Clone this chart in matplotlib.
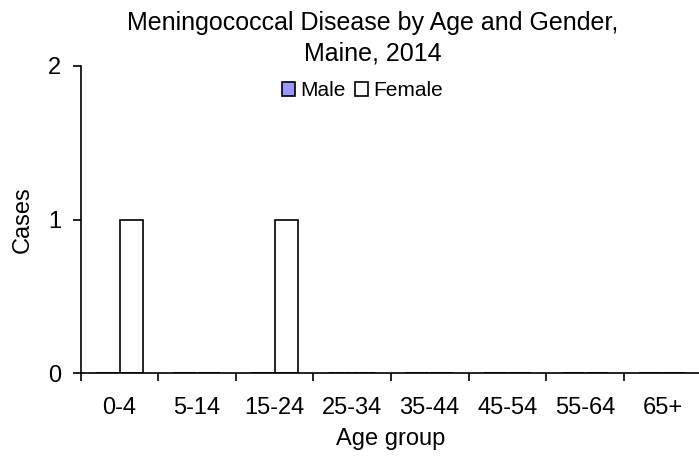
import matplotlib
matplotlib.use("Agg")
import matplotlib.pyplot as plt
import numpy as np

plt.rcParams['font.family'] = ['Liberation Sans', 'DejaVu Sans']

age_groups = ["0-4", "5-14", "15-24", "25-34", "35-44", "45-54", "55-64", "65+"]
male = [0, 0, 0, 0, 0, 0, 0, 0]
female = [1, 0, 1, 0, 0, 0, 0, 0]
y_ticks = [0, 1, 2]

fig = plt.figure(figsize=(6.99, 4.62), dpi=100)
W, H = 699, 462
left_px, right_px = 80.5, 701.3
top_px, bot_px = 66, 373
ax = fig.add_axes([left_px / W, 1 - bot_px / H, (right_px - left_px) / W, (bot_px - top_px) / H])

x = np.arange(len(age_groups))
bw = 0.29
ax.bar(x - 0.155, male, width=bw, color="#9999FF", edgecolor="black", linewidth=1.2, label="Male")
ax.bar(x + 0.155, female, width=bw, color="white", edgecolor="black", linewidth=1.2, label="Female")

ax.set_xlim(-0.5, len(age_groups) - 0.5)
ax.set_ylim(0, 2)
ax.set_yticks(y_ticks)
ax.set_yticklabels([str(v) for v in y_ticks], fontsize=17)
ax.set_xticks(x)
ax.set_xticklabels(age_groups, fontsize=17)
ax.set_xticks(np.arange(len(age_groups) + 1) - 0.5, minor=True)
ax.tick_params(axis='x', which='major', length=0, pad=17.5)
ax.tick_params(axis='x', which='minor', length=6, direction='out', width=1.2)
ax.tick_params(axis='y', length=6, direction='out', width=1.2, pad=8)
for s in ['top', 'right']:
    ax.spines[s].set_visible(False)
for s in ['left', 'bottom']:
    ax.spines[s].set_linewidth(1.2)

ax.set_xlabel("Age group", fontsize=17, labelpad=6)
ax.set_ylabel("Cases", fontsize=17, labelpad=10)

fig.text(373 / W, 1 - 30 / H, "Meningococcal Disease by Age and Gender,", ha='center', va='baseline', fontsize=18)
fig.text(373 / W, 1 - 61 / H, "Maine, 2014", ha='center', va='baseline', fontsize=18)

fig.legend(loc='center', bbox_to_anchor=(362.5 / W, 1 - 91 / H), ncol=2, frameon=False,
           fontsize=15, handlelength=0.62, handleheight=0.62, handletextpad=0.25,
           columnspacing=0.45, borderpad=0, borderaxespad=0)

fig.savefig("out.png", dpi=100)
